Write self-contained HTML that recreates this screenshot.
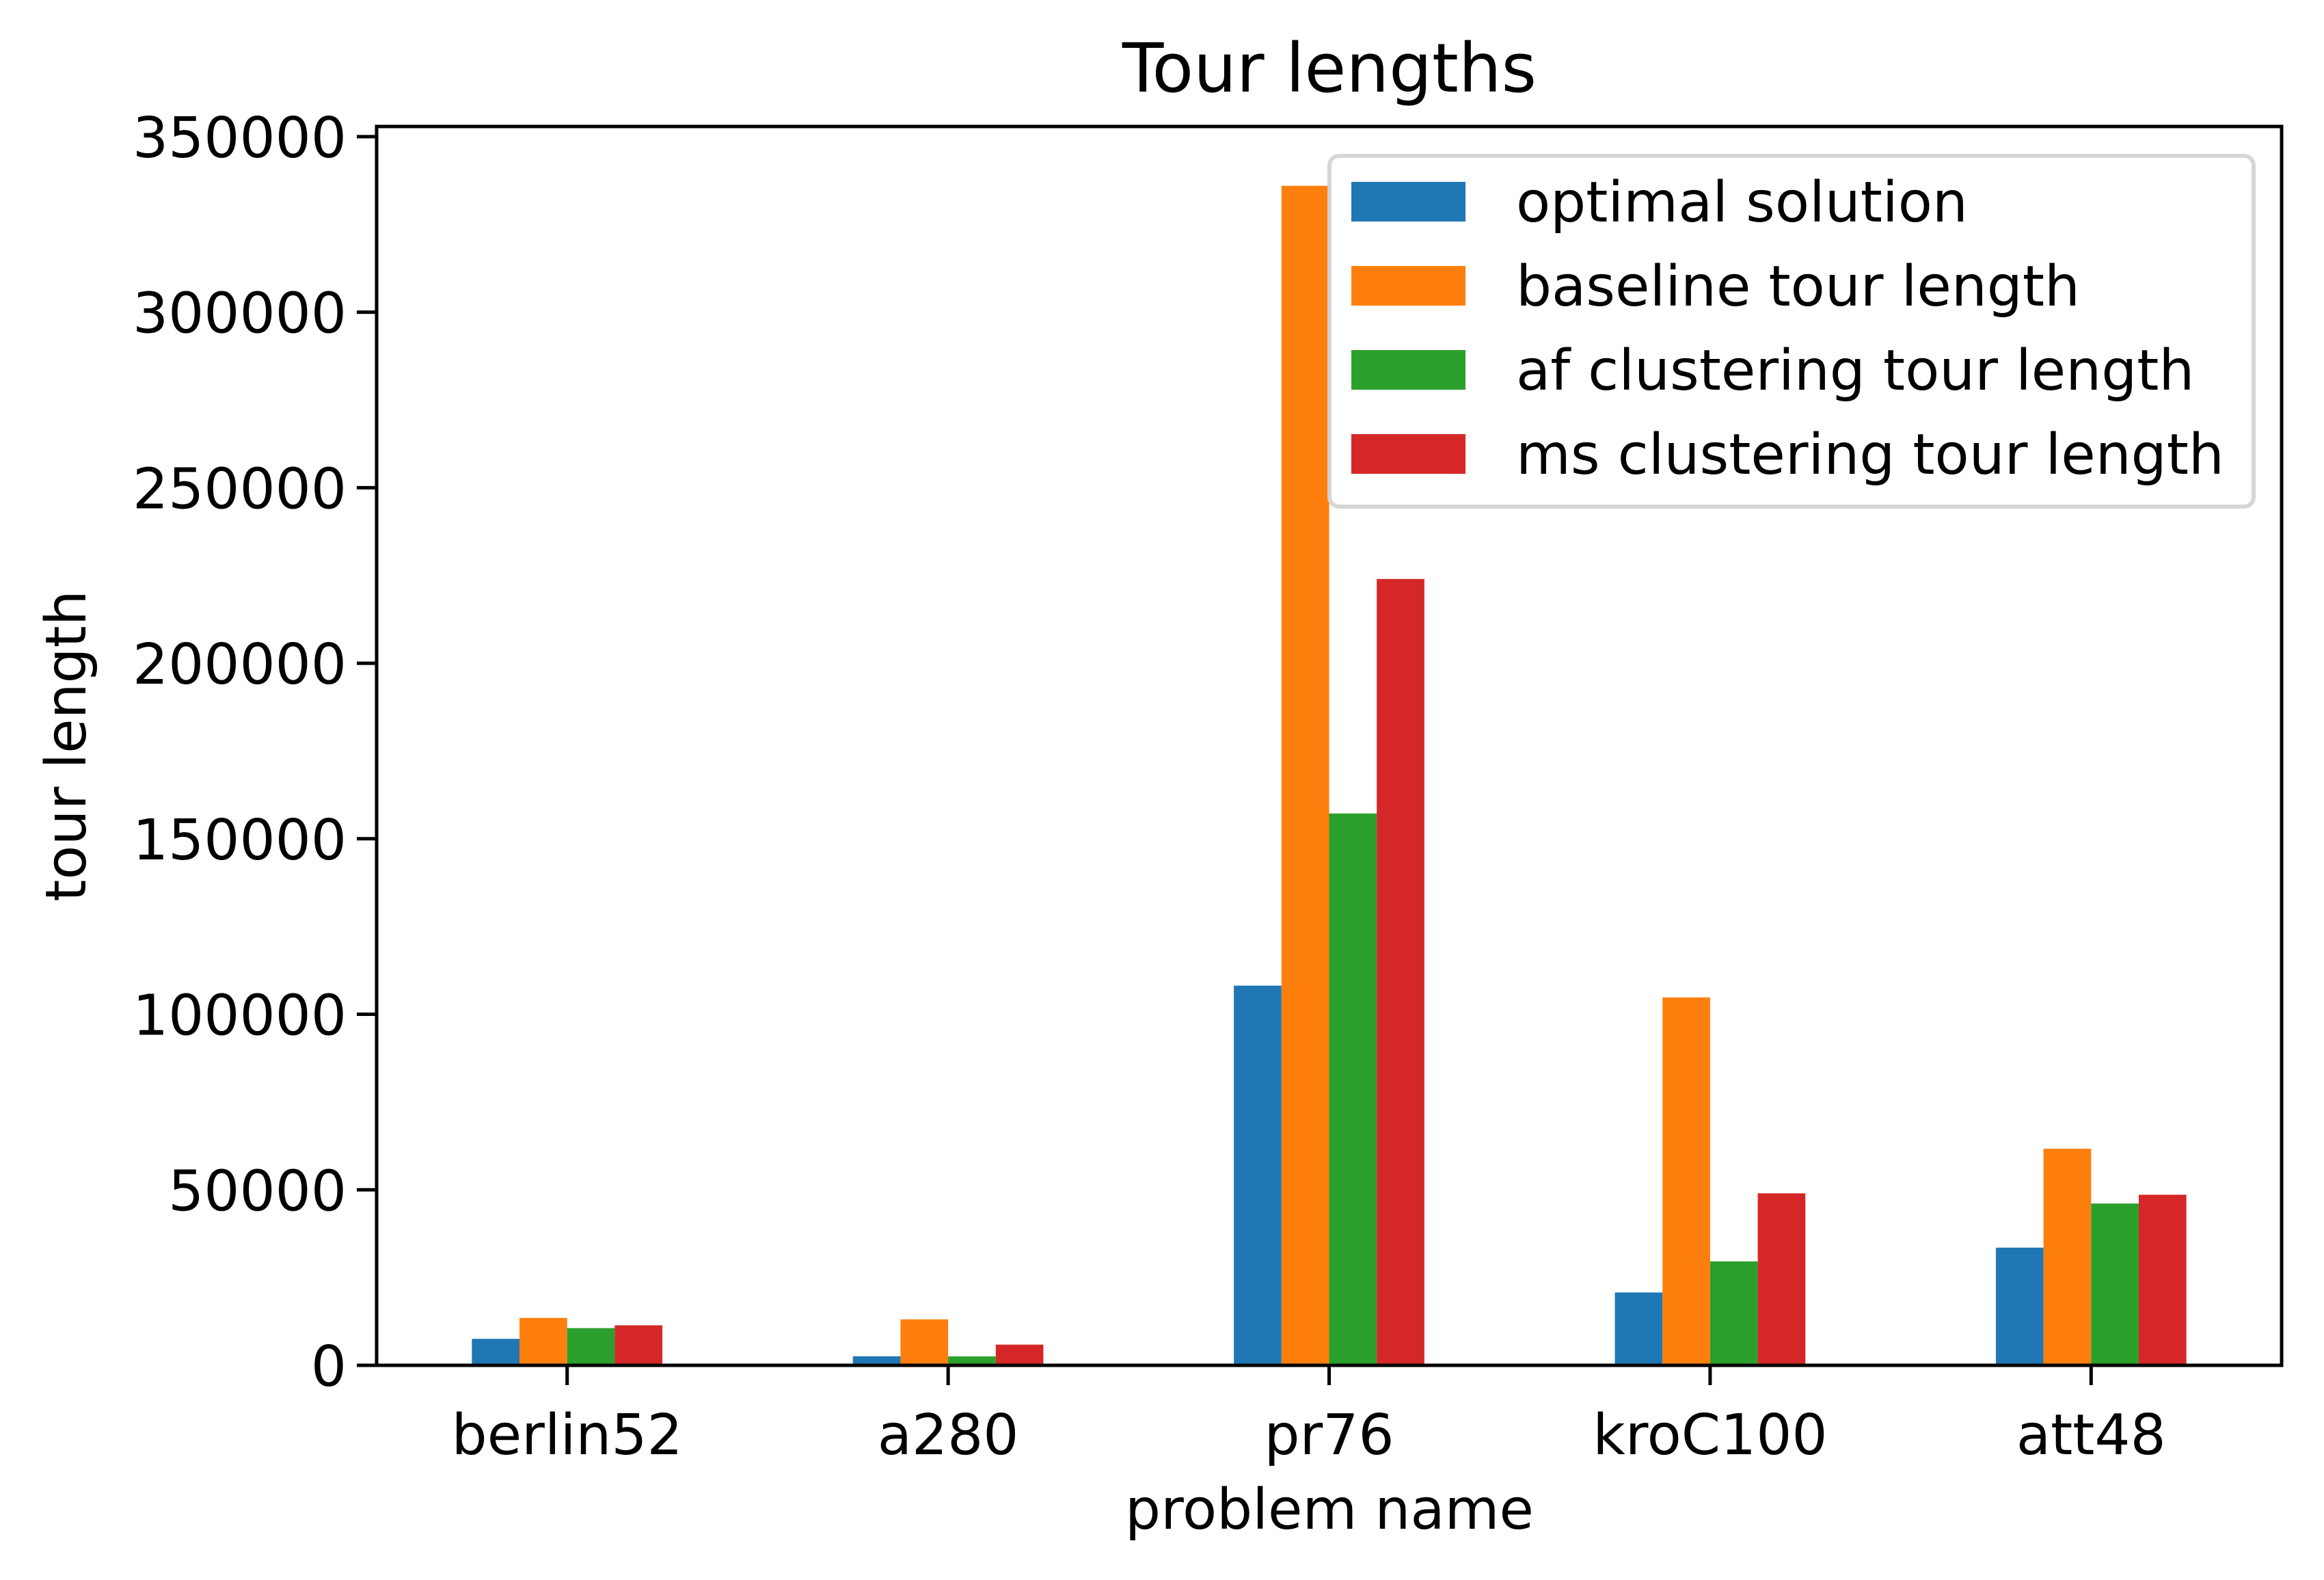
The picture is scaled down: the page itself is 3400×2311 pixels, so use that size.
<!DOCTYPE html>
<html><head><meta charset="utf-8"><style>
html,body{margin:0;padding:0;background:#fff;}
svg{display:block;font-family:"DejaVu Sans","Liberation Sans",sans-serif;}
</style></head><body>
<svg id="chart" width="3400" height="2311" viewBox="0 0 3400 2311" xmlns="http://www.w3.org/2000/svg">
<rect width="3400" height="2311" fill="#fff"/>
<text x="1945" y="134" font-size="99" text-anchor="middle">Tour lengths</text>
<g id="bars"></g>
<g id="axes"></g>
<text x="1945" y="2236" font-size="82" text-anchor="middle">problem name</text>
<text transform="translate(125,1091) rotate(-90)" font-size="82" text-anchor="middle">tour length</text>
<g id="legend"></g>
</svg>
<script>
const categories = ["berlin52","a280","pr76","kroC100","att48"];
const seriesNames = ["optimal solution","baseline tour length","af clustering tour length","ms clustering tour length"];
const optimal = [7542, 2579, 108159, 20749, 33522];
const baseline = [13500, 13100, 336000, 104800, 61700];
const afClustering = [10600, 2550, 157200, 29600, 46100];
const msClustering = [11400, 5900, 224000, 49000, 48600];
const yTicks = [0,50000,100000,150000,200000,250000,300000,350000];
const colors = ["#1f77b4","#ff7f0e","#2ca02c","#d62728"];
const series = [optimal, baseline, afClustering, msClustering];

const NS="http://www.w3.org/2000/svg";
const L=551, R=3338, T=185, B=1997;
const yMax=352900;
function y(v){return B-(v/yMax)*(B-T);}
function x(i){return L+(i+0.5)*(R-L)/categories.length;}
const band=(R-L)/categories.length, bw=band*0.125;
function mk(tag,attrs,parent){const e=document.createElementNS(NS,tag);for(const k in attrs)e.setAttribute(k,attrs[k]);parent.appendChild(e);return e;}

const gb=document.getElementById('bars');
series.forEach((s,si)=>{
  s.forEach((v,ci)=>{
    const x0=x(ci)-2*bw+si*bw;
    const r=mk('rect',{x:x0,y:y(v),width:bw,height:B-y(v),fill:colors[si]},gb);
    
    
  });
});

const ga=document.getElementById('axes');
const frame=mk('rect',{x:L,y:T,width:R-L,height:B-T,fill:'none',stroke:'#000','stroke-width':5},ga);


yTicks.forEach(t=>{
  mk('line',{x1:L-29,x2:L,y1:y(t),y2:y(t),stroke:'#000','stroke-width':5},ga);
  const tx=mk('text',{x:L-44,y:y(t)+30,'font-size':82,'text-anchor':'end'},ga);
  tx.textContent=t;
  
  
});
categories.forEach((c,i)=>{
  mk('line',{x1:x(i),x2:x(i),y1:B,y2:B+29,stroke:'#000','stroke-width':5},ga);
  const tx=mk('text',{x:x(i),y:B+130,'font-size':82,'text-anchor':'middle'},ga);
  tx.textContent=c;
  
  
});

const gl=document.getElementById('legend');
mk('rect',{x:1945,y:228,width:1352,height:513,rx:14,fill:'#fff',stroke:'#d4d4d4','stroke-width':6,opacity:0.95},gl);
seriesNames.forEach((n,i)=>{
  const yy=266+i*123;
  const p=mk('rect',{x:1977,y:yy,width:167,height:58,fill:colors[i]},gl);
  
  
  const t=mk('text',{x:2218,y:yy+58,'font-size':82},gl);
  t.textContent=n;
  
  
});
</script>
</body></html>
